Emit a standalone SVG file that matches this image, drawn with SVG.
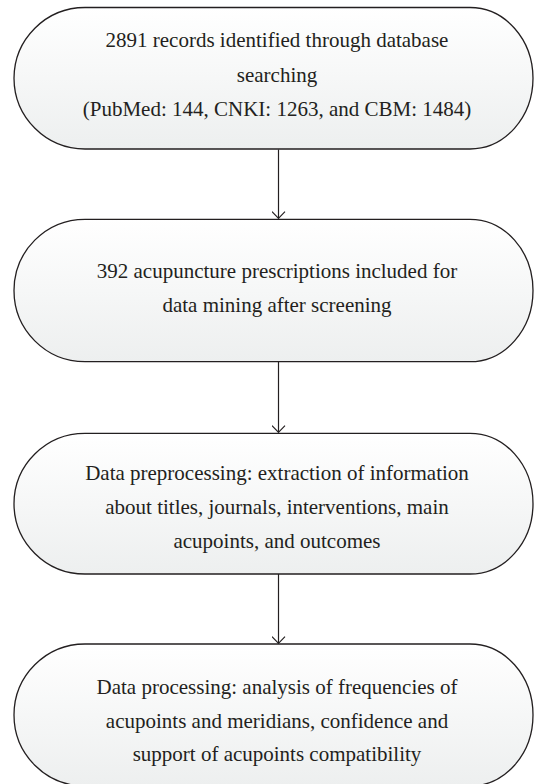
<svg xmlns="http://www.w3.org/2000/svg" width="535" height="784" viewBox="0 0 535 784">
<defs>
<linearGradient id="fillg" x1="0" y1="0" x2="0" y2="1">
<stop offset="0" stop-color="#ffffff"/>
<stop offset="1" stop-color="#edefef"/>
</linearGradient>
<marker id="chev" viewBox="0 0 8 14" refX="7.4" refY="7" markerWidth="8" markerHeight="14" markerUnits="userSpaceOnUse" orient="auto">
<path d="M0.5,0.5 L7.2,7 L0.5,13.5" fill="none" stroke="#231f20" stroke-width="1.2"/>
</marker>
</defs>
<style>
.box{fill:url(#fillg);stroke:#231f20;stroke-width:1.3}
.t{font-family:"Liberation Serif","Times New Roman",serif;font-size:21px;fill:#231f20;text-anchor:middle}
.c{stroke:#231f20;stroke-width:1.2;fill:none}
</style>
<rect width="535" height="784" fill="#ffffff"/>
<g id="connectors">
<line class="c" x1="278.5" y1="149.5" x2="278.5" y2="218.5" marker-end="url(#chev)"/>
<line class="c" x1="278.5" y1="362" x2="278.5" y2="432.5" marker-end="url(#chev)"/>
<line class="c" x1="278.5" y1="574" x2="278.5" y2="643.5" marker-end="url(#chev)"/>
</g>
<g id="node1">
<path class="box" d="M85,7.5 L470,7.5 A63,71 0 0 1 533,78.3 A63,71 0 0 1 470,149 L85,149 A71,71 0 0 1 14,78.3 A71,71 0 0 1 85,7.5 Z"/>
<text class="t" x="277" y="47">2891 records identified through database</text>
<text class="t" x="277" y="81.5">searching</text>
<text class="t" x="277" y="116">(PubMed: 144, CNKI: 1263, and CBM: 1484)</text>
</g>
<g id="node2">
<path class="box" d="M85,219.3 L470,219.3 A63,71.2 0 0 1 533,290.5 A63,71.2 0 0 1 470,361.7 L85,361.7 A71,71.2 0 0 1 14,290.5 A71,71.2 0 0 1 85,219.3 Z"/>
<text class="t" x="277" y="278">392 acupuncture prescriptions included for</text>
<text class="t" x="277" y="312">data mining after screening</text>
</g>
<g id="node3">
<path class="box" d="M85,433.3 L470,433.3 A63,70.4 0 0 1 533,503.7 A63,70.4 0 0 1 470,574 L85,574 A71,70.4 0 0 1 14,503.7 A71,70.4 0 0 1 85,433.3 Z"/>
<text class="t" x="277" y="480">Data preprocessing: extraction of information</text>
<text class="t" x="277" y="514">about titles, journals, interventions, main</text>
<text class="t" x="277" y="548">acupoints, and outcomes</text>
</g>
<g id="node4">
<path class="box" d="M85,644 L470,644 A63,71 0 0 1 533,715 A63,71 0 0 1 470,786 L85,786 A71,71 0 0 1 14,715 A71,71 0 0 1 85,644 Z"/>
<text class="t" x="277" y="694">Data processing: analysis of frequencies of</text>
<text class="t" x="277" y="727.5">acupoints and meridians, confidence and</text>
<text class="t" x="277" y="761">support of acupoints compatibility</text>
</g>
</svg>
